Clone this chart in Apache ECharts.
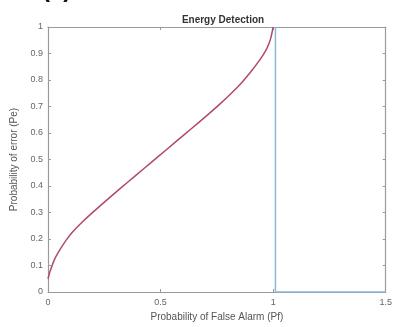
<!DOCTYPE html>
<html>
<head>
<meta charset="utf-8">
<script src="https://cdn.jsdelivr.net/npm/echarts@6/dist/echarts.min.js"></script>
<style>
  html, body { margin: 0; padding: 0; background: #fff; }
  #chart { width: 395px; height: 327px; }
</style>
</head>
<body>
<div id="chart"></div>
<script>
// probability of false alarm (x) and probability of error (y)
var pf = [0, 0.01, 0.03, 0.053, 0.08, 0.111, 0.15, 0.185, 0.258, 0.32, 0.39, 0.46, 0.523, 0.6, 0.67, 0.714, 0.758, 0.82, 0.86, 0.9, 0.94, 0.963, 0.978, 0.99, 1.0];
var pe = [0.05, 0.08, 0.125, 0.16, 0.195, 0.228, 0.262, 0.29, 0.345, 0.39, 0.44, 0.49, 0.535, 0.59, 0.64, 0.672, 0.705, 0.755, 0.79, 0.83, 0.875, 0.905, 0.93, 0.96, 1.0];
// threshold step line
var stepX = [1.01, 1.01, 1.5];
var stepY = [1, 0, 0];
var xTicks = [0, 0.5, 1, 1.5];
var yTicks = [0, 0.1, 0.2, 0.3, 0.4, 0.5, 0.6, 0.7, 0.8, 0.9, 1];

function pairs(xs, ys) {
  return xs.map(function (x, i) { return [x, ys[i]]; });
}

var axisGrey = '#9a9a9a';
var font = 'Liberation Sans, Arial, sans-serif';

// box axes (top / right) just draw the frame and inside ticks
function boxAxis(extra) {
  return Object.assign({
    type: 'value',
    axisLine: { show: true, onZero: false, lineStyle: { color: axisGrey, width: 1.2 } },
    axisTick: { show: true, inside: true, length: 3, lineStyle: { color: axisGrey } },
    axisLabel: { show: false },
    splitLine: { show: false }
  }, extra);
}

var chart = echarts.init(document.getElementById('chart'));
chart.setOption({
  animation: false,
  backgroundColor: '#fff',
  title: {
    text: 'Energy Detection',
    left: 218,
    textAlign: 'center',
    top: 10,
    textStyle: { fontSize: 10, fontWeight: 'bold', color: '#333', fontFamily: font }
  },
  graphic: [{
    type: 'text',
    left: 42,
    top: -22,
    style: { text: '(a)', fontSize: 24, fontWeight: 'bold', fill: '#111', fontFamily: font }
  }],
  grid: { left: 48, right: 7, top: 27, bottom: 35 },
  xAxis: [{
    type: 'value',
    min: xTicks[0],
    max: xTicks[xTicks.length - 1],
    interval: 0.5,
    name: 'Probability of False Alarm (Pf)',
    nameLocation: 'middle',
    nameGap: 16,
    nameTextStyle: { fontSize: 10, color: '#555', fontFamily: font },
    axisLine: { onZero: false, lineStyle: { color: axisGrey, width: 1.2 } },
    axisTick: { inside: true, length: 3, lineStyle: { color: axisGrey } },
    axisLabel: { fontSize: 9, color: '#666', margin: 6, fontFamily: font },
    splitLine: { show: false }
  }, boxAxis({ position: 'top', min: 0, max: 1.5, interval: 0.5 })],
  yAxis: [{
    type: 'value',
    min: yTicks[0],
    max: yTicks[yTicks.length - 1],
    interval: 0.1,
    name: 'Probability of error (Pe)',
    nameLocation: 'middle',
    nameGap: 23,
    nameTextStyle: { fontSize: 10, color: '#555', fontFamily: font },
    axisLine: { show: true, onZero: false, lineStyle: { color: axisGrey, width: 1.2 } },
    axisTick: { show: true, inside: true, length: 3, lineStyle: { color: axisGrey } },
    axisLabel: { fontSize: 9, color: '#666', margin: 5, fontFamily: font },
    splitLine: { show: false }
  }, boxAxis({ position: 'right', min: 0, max: 1, interval: 0.1 })],
  series: [{
    name: 'threshold',
    type: 'line',
    data: pairs(stepX, stepY),
    showSymbol: false,
    lineStyle: { color: '#86b8dd', width: 1.5 },
    z: 3
  }, {
    name: 'Pe',
    type: 'line',
    data: pairs(pf, pe),
    smooth: 0.2,
    showSymbol: false,
    lineStyle: { color: '#b04a67', width: 1.5 },
    z: 4
  }]
});
</script>
</body>
</html>
